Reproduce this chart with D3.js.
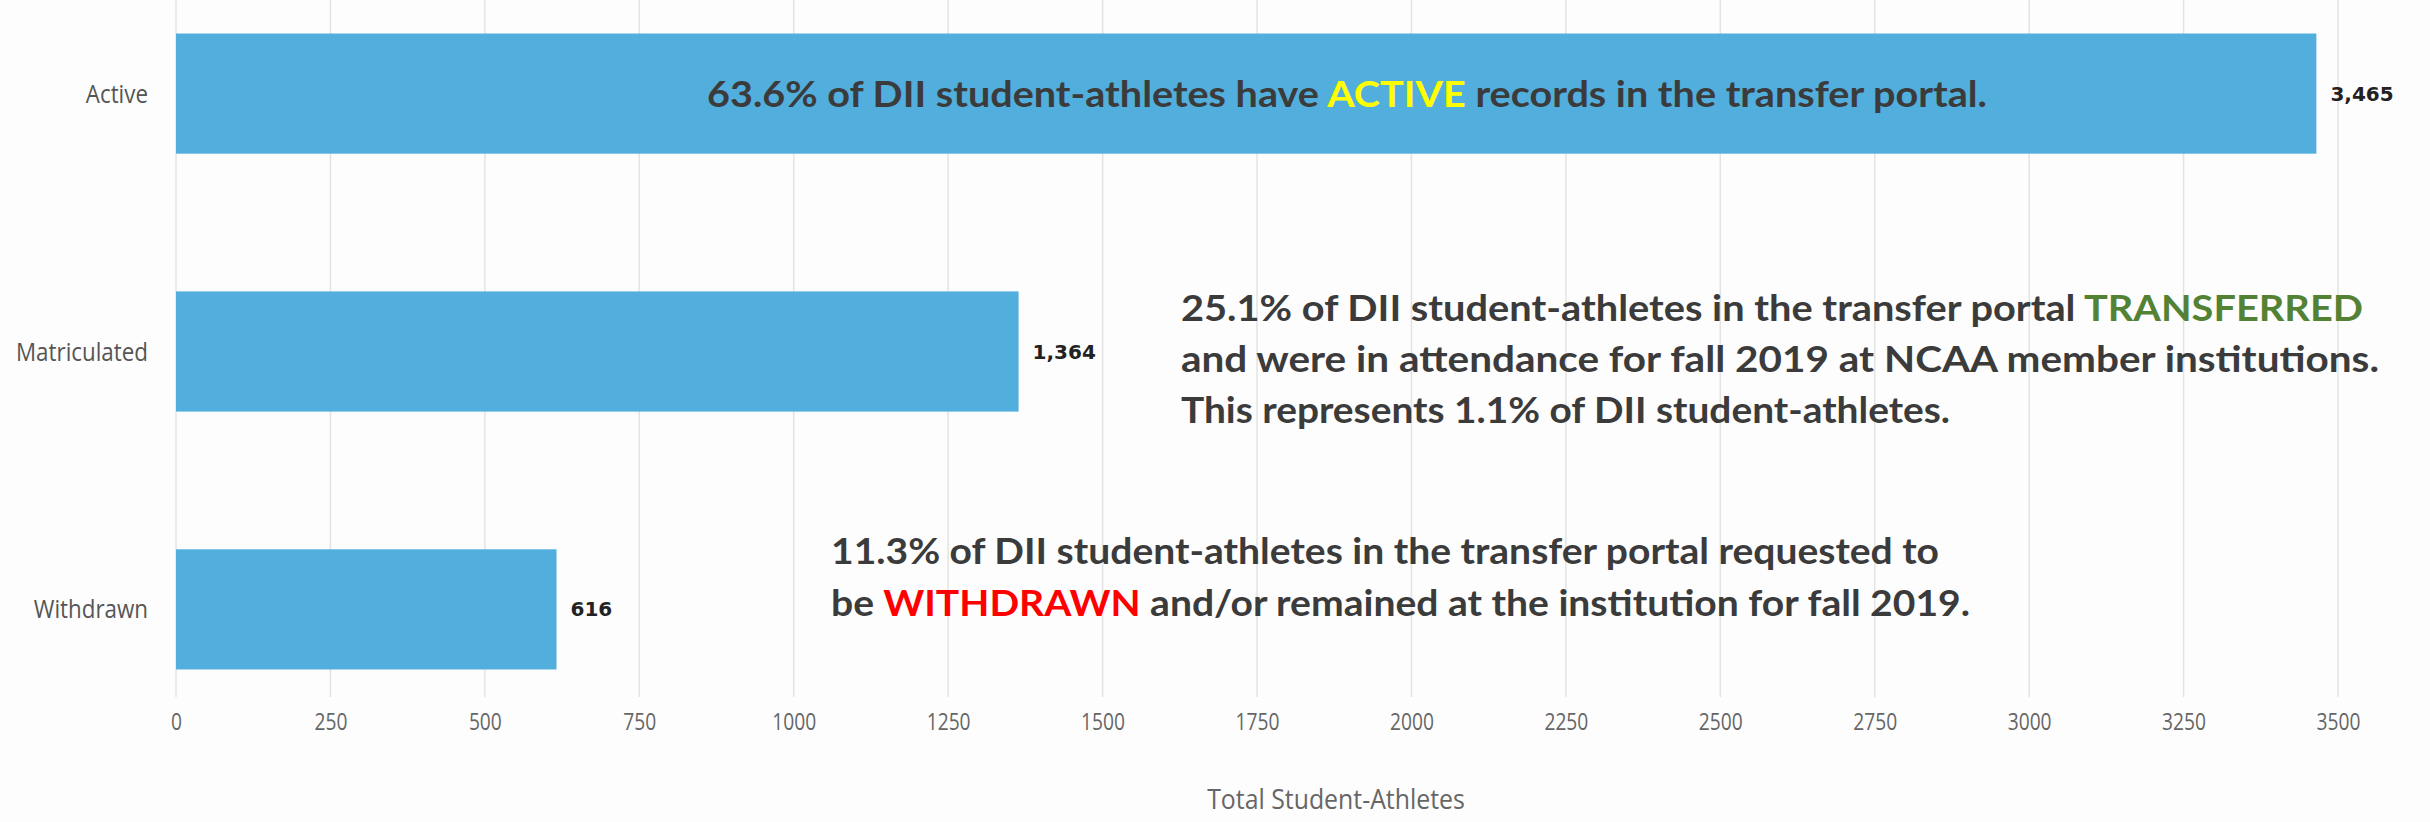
<!DOCTYPE html>
<html>
<head>
<meta charset="utf-8">
<script src="https://cdn.jsdelivr.net/npm/d3@7"></script>
<style>
  html, body { margin: 0; padding: 0; background: #fdfdfd; }
  svg { display: block; }
</style>
</head>
<body>
<svg id="chart" width="2430" height="822"></svg>
<script>
const categories = ["Active", "Matriculated", "Withdrawn"];
const values = [3465, 1364, 616];
const valueLabels = ["3,465", "1,364", "616"];
const tickValues = [0, 250, 500, 750, 1000, 1250, 1500, 1750, 2000, 2250, 2500, 2750, 3000, 3250, 3500];
const axisTitle = "Total Student-Athletes";

// annotation lines: arrays of [text, colorKey]
const note1 = [["63.6% of DII student-athletes have ", "t"], ["ACTIVE", "y"], [" records in the transfer portal.", "t"]];
const note2a = [["25.1% of DII student-athletes in the transfer portal ", "t"], ["TRANSFERRED", "g"]];
const note2b = [["and were in attendance for fall 2019 at NCAA member institutions.", "t"]];
const note2c = [["This represents 1.1% of DII student-athletes.", "t"]];
const note3a = [["11.3% of DII student-athletes in the transfer portal requested to", "t"]];
const note3b = [["be ", "t"], ["WITHDRAWN", "r"], [" and/or remained at the institution for fall 2019.", "t"]];

const colors = { t: "#3b3b3b", y: "#ffff00", g: "#548235", r: "#ff0000" };

const svg = d3.select("#chart");
const W = 2430, H = 822;

svg.append("rect").attr("width", W).attr("height", H).attr("fill", "#fdfdfd");

const x = d3.scaleLinear().domain([0, 3500]).range([176, 2338]);
const y = d3.scaleBand().domain(categories).range([0, 703]).paddingInner(0.534).paddingOuter(0.13);

const plotTop = 0, plotBottom = 697;

function condense(sel, f) {
  sel.each(function () {
    const n = this.getComputedTextLength();
    d3.select(this).attr("textLength", n * f).attr("lengthAdjust", "spacingAndGlyphs");
  });
}

// gridlines
svg.append("g").selectAll("line").data(tickValues).join("line")
  .attr("x1", d => x(d)).attr("x2", d => x(d))
  .attr("y1", plotTop).attr("y2", plotBottom)
  .attr("stroke", "#e3e3e3").attr("stroke-width", 1.5);

// bars
svg.append("g").selectAll("rect").data(categories).join("rect")
  .attr("x", x(0))
  .attr("y", d => y(d))
  .attr("width", (d, i) => x(values[i]) - x(0))
  .attr("height", y.bandwidth())
  .attr("fill", "#52aedc");

// category labels
svg.append("g").selectAll("text").data(categories).join("text")
  .attr("x", 148)
  .attr("y", d => y(d) + y.bandwidth() / 2)
  .attr("dy", "0.35em")
  .attr("text-anchor", "end")
  .attr("font-family", "'Open Sans', sans-serif")
  .attr("font-size", 26)
  .attr("fill", "#555")
  .text(d => d)
  .call(condense, 0.86);

// value labels
svg.append("g").selectAll("text").data(categories).join("text")
  .attr("x", (d, i) => x(values[i]) + 14)
  .attr("y", d => y(d) + y.bandwidth() / 2)
  .attr("dy", "0.35em")
  .attr("font-family", "'DejaVu Sans', sans-serif")
  .attr("font-weight", "bold")
  .attr("font-size", 20)
  .attr("fill", "#222")
  .text((d, i) => valueLabels[i]);

// x axis tick labels
const xAxis = d3.axisBottom(x).tickValues(tickValues).tickSize(0).tickPadding(0).tickFormat(d3.format("d"));
const gx = svg.append("g").attr("transform", `translate(0, ${plotBottom})`).call(xAxis);
gx.select(".domain").remove();
gx.selectAll("text")
  .attr("y", 25)
  .attr("dy", "0.35em")
  .attr("font-family", "'Open Sans', sans-serif")
  .attr("font-size", 24)
  .attr("fill", "#666")
  .call(condense, 0.8);

svg.append("text")
  .attr("x", 1336).attr("y", 800).attr("dy", "0.35em")
  .attr("text-anchor", "middle")
  .attr("font-family", "'Open Sans', sans-serif")
  .attr("font-size", 27)
  .attr("fill", "#666")
  .text(axisTitle)
  .call(condense, 0.92);

// annotations
function note(parts, x0, yc, width) {
  const t = svg.append("text")
    .attr("x", x0).attr("y", yc).attr("dy", "0.35em")
    .attr("font-family", "Lato, 'Open Sans', sans-serif")
    .attr("font-weight", "bold")
    .attr("font-size", 37)
    .attr("textLength", width)
    .attr("lengthAdjust", "spacingAndGlyphs");
  t.selectAll("tspan").data(parts).join("tspan")
    .attr("fill", d => colors[d[1]])
    .style("white-space", "pre")
    .text(d => d[0]);
}
note(note1, 707, 94, 1280);
note(note2a, 1181, 308, 1182);
note(note2b, 1181, 359, 1198);
note(note2c, 1181, 410, 769);
note(note3a, 831, 551, 1108);
note(note3b, 831, 603, 1139);
</script>
</body>
</html>
